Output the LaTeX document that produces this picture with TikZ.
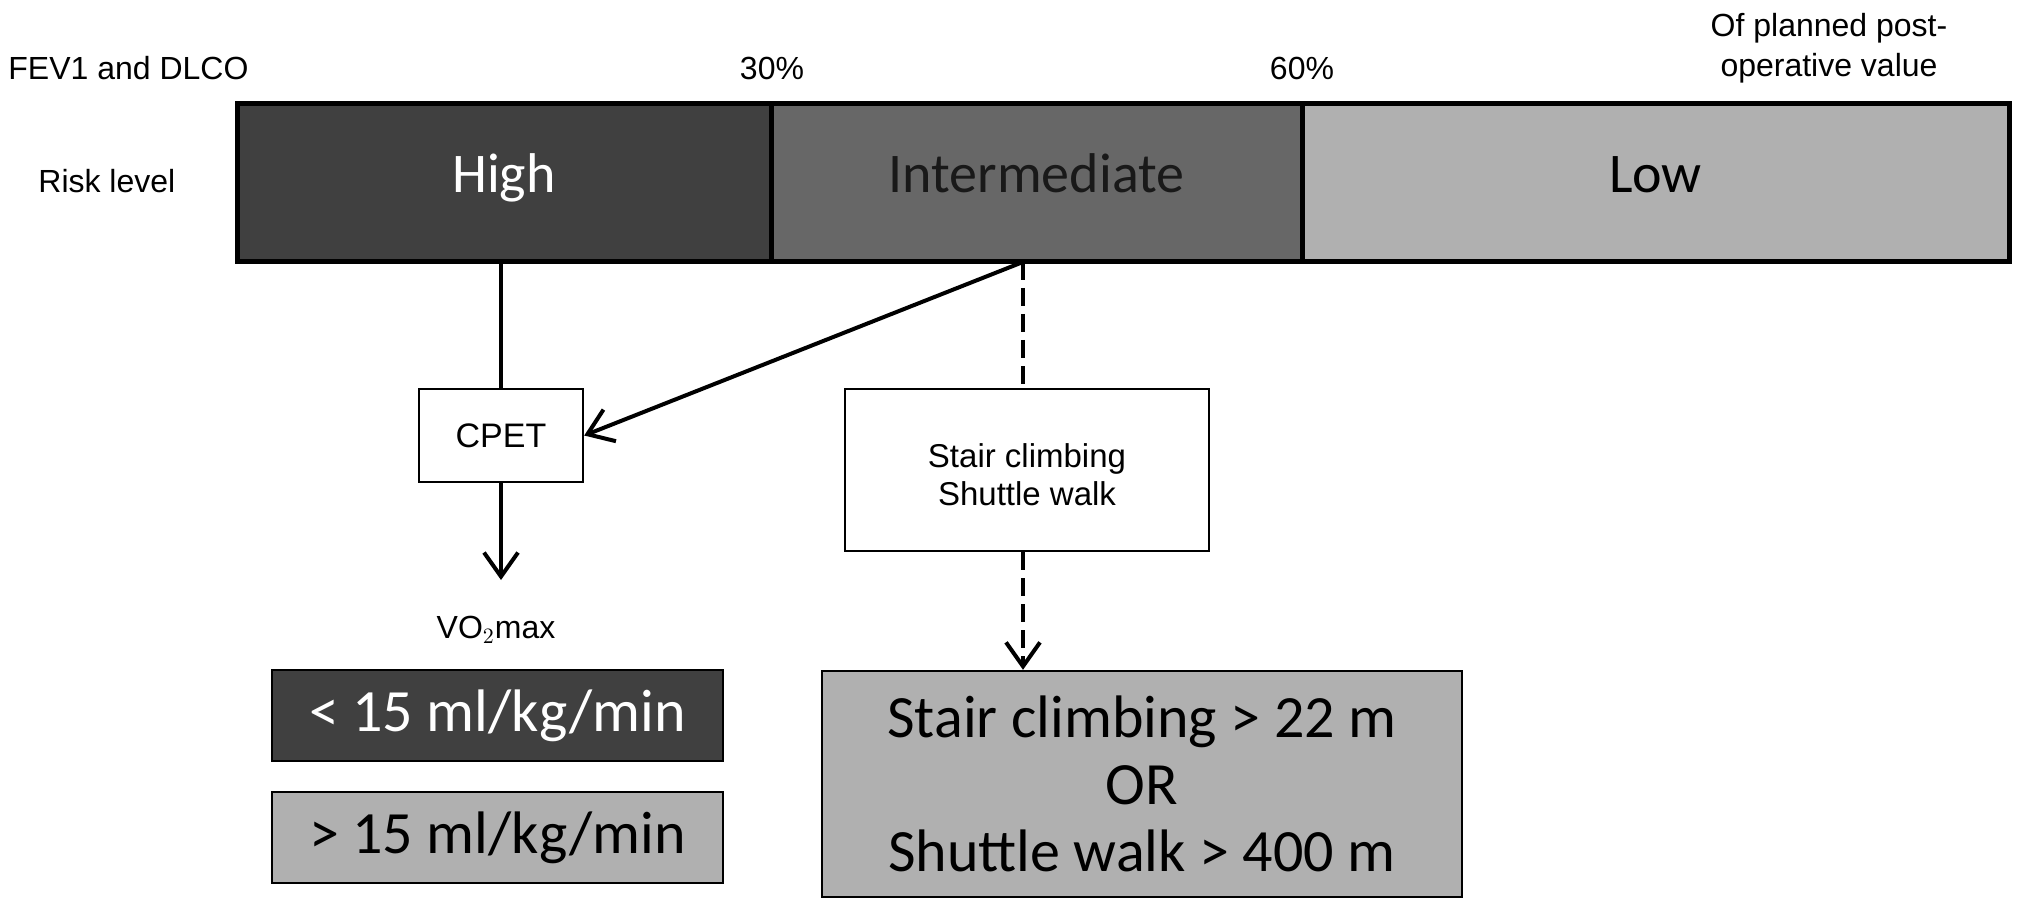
\documentclass[tikz,border=0pt]{standalone}
\usepackage{fontspec}
\setmainfont{Liberation Sans}
\newfontfamily\calfont{Carlito}
\usetikzlibrary{arrows.meta}
\definecolor{riskhigh}{HTML}{404040}
\definecolor{riskmid}{HTML}{676767}
\definecolor{risklow}{HTML}{B0B0B0}
\begin{document}
\begin{tikzpicture}[x=0.5pt,y=-0.5pt,
  barbox/.style={draw, line width=2.5pt, inner sep=0pt, minimum height=79pt, text height=20pt, text depth=10pt, font=\calfont\fontsize{28}{34}\selectfont},
  plainbox/.style={draw, line width=1.2pt, inner sep=0pt, fill=white, align=center},
  resbox/.style={draw, line width=1.2pt, inner sep=0pt, align=center, font=\calfont\fontsize{30}{33.5}\selectfont},
  lbl/.style={font=\fontsize{16}{20}\selectfont, align=center, inner sep=0pt},
  tip/.style={-{Straight Barb[length=12pt,width=17pt,line width=2pt]}},
  arr/.style={line width=2pt, tip},
  dashline/.style={line width=2pt, dash pattern=on 9pt off 4pt}
]
\useasboundingbox (0,0) rectangle (2032,919);

% risk bar
\node[barbox, fill=riskhigh, text=white, minimum width=267pt] (high) at (504,183) {High};
\node[barbox, fill=riskmid, text=black!90, minimum width=265.5pt] (inter) at (1036.5,183) {Intermediate};
\node[barbox, fill=risklow, text=black, minimum width=353.5pt] (low) at (1655.5,183) {Low};

% labels
\node[lbl, anchor=west] (fev) at (8,68) {FEV1 and DLCO};
\node[lbl] (p30) at (772,68) {30\%};
\node[lbl] (p60) at (1302,68) {60\%};
\node[lbl] (planned) at (1829,48) {Of planned post-\\operative value};
\node[lbl, anchor=west] (risk) at (38,181) {Risk level};

% test boxes
\node[plainbox, font=\fontsize{17}{20}\selectfont, minimum width=82pt, minimum height=46.5pt] (cpet) at (501,435.5) {CPET};
\node[plainbox, font=\fontsize{16.5}{19}\selectfont, minimum width=182pt, minimum height=81pt, text height=40pt, text depth=5pt] (stair) at (1027,470) {Stair climbing\\Shuttle walk};

\node[lbl] (vo2) at (496,630) {VO$_2$max};

% result boxes
\node[resbox, fill=riskhigh, text=white, minimum width=225.5pt, minimum height=45.5pt] (lt15) at (497.5,715.5) {< 15 ml/kg/min};
\node[resbox, fill=risklow, text=black, minimum width=225.5pt, minimum height=45.5pt] (gt15) at (497.5,837.5) {> 15 ml/kg/min};
\node[resbox, fill=risklow, text=black, minimum width=320pt, minimum height=113pt] (big) at (1142,784) {Stair climbing > 22 m\\OR\\Shuttle walk > 400 m};

% connectors
\coordinate (src) at (1023,262);
\coordinate (vtip) at (501,580);
\draw[line width=2pt] (cpet.north |- high.south) -- (cpet.north);
\draw[arr] (src) -- (cpet.east);
\draw[arr] (cpet.south) -- (vtip);
\draw[dashline] (src) -- (src |- stair.north);
\draw[dashline, tip] (src |- stair.south) -- (src |- big.north);
\end{tikzpicture}
\end{document}
